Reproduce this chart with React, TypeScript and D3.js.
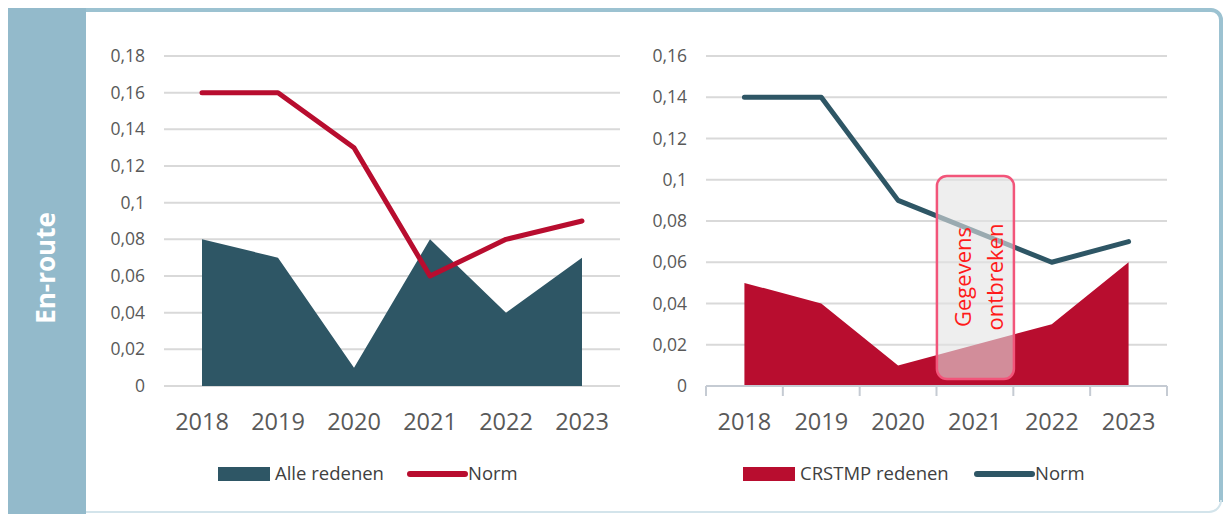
import React from "react";
import * as d3 from "d3";

// data
const years = ["2018", "2019", "2020", "2021", "2022", "2023"];
const alleRedenen = [0.08, 0.07, 0.01, 0.08, 0.04, 0.07];
const normLeft = [0.16, 0.16, 0.13, 0.06, 0.08, 0.09];
const crstmpRedenen: (number | null)[] = [0.05, 0.04, 0.01, null, 0.03, 0.06];
const normRight: (number | null)[] = [0.14, 0.14, 0.09, null, 0.06, 0.07];
const yTicksLeft = [0, 0.02, 0.04, 0.06, 0.08, 0.1, 0.12, 0.14, 0.16, 0.18];
const yTicksRight = [0, 0.02, 0.04, 0.06, 0.08, 0.1, 0.12, 0.14, 0.16];
const sectionLabel = "En-route";
const missingLabel = ["Gegevens", "ontbreken"];
const missingYear = "2021";

const teal = "#2e5665";
const crimson = "#b80d2f";
const gridCol = "#d9d9d9";
const textCol = "#595959";
const font = "'Open Sans', 'Noto Sans', sans-serif";

const nl = d3.formatLocale({ decimal: ",", thousands: ".", grouping: [3], currency: ["", ""] });
const fmt = nl.format(".2~f");

type Cfg = {
  x0: number;
  x1: number;
  yMax: number;
  ticks: number[];
  area: (number | null)[];
  line: (number | null)[];
  areaColor: string;
  lineColor: string;
  axisTicks: boolean;
  legendArea: string;
  legendX: number;
  normX: number;
};

const Panel = ({ c }: { c: Cfg }) => {
  const x = d3.scaleBand<string>().domain(years).range([c.x0, c.x1]).padding(0);
  const y = d3.scaleLinear().domain([0, c.yMax]).range([386, 56]);
  const cx = (i: number) => (x(years[i]) as number) + x.bandwidth() / 2;

  const areaPts = c.area.map((v, i) => ({ i, v })).filter((d) => d.v !== null) as { i: number; v: number }[];
  const linePts = c.line.map((v, i) => ({ i, v })).filter((d) => d.v !== null) as { i: number; v: number }[];

  const areaGen = d3
    .area<{ i: number; v: number }>()
    .x((d) => cx(d.i))
    .y0(y(0))
    .y1((d) => y(d.v));
  const lineGen = d3
    .line<{ i: number; v: number }>()
    .x((d) => cx(d.i))
    .y((d) => y(d.v));

  return (
    <g>
      {c.ticks.map((t) => (
        <g key={t}>
          <line x1={c.x0} x2={c.x1} y1={y(t)} y2={y(t)} stroke={gridCol} strokeWidth={2} />
          <text x={c.x0 - 19} y={y(t)} dy="0.35em" textAnchor="end" fontSize={17.5} fill={textCol} fontFamily={font}>
            {fmt(t)}
          </text>
        </g>
      ))}
      <path d={areaGen(areaPts) as string} fill={c.areaColor} />
      {c.axisTicks && (
        <g stroke="#c5cbd3" strokeWidth={2}>
          <line x1={c.x0} x2={c.x1} y1={y(0)} y2={y(0)} />
          {[...years.map((yr) => x(yr) as number), c.x1].map((p, i) => (
            <line key={i} x1={p} x2={p} y1={y(0)} y2={y(0) + 10} />
          ))}
        </g>
      )}
      <path d={lineGen(linePts) as string} fill="none" stroke={c.lineColor} strokeWidth={5} strokeLinecap="round" strokeLinejoin="round" />
      {years.map((yr, i) => (
        <text key={yr} x={cx(i)} y={430} textAnchor="middle" fontSize={23.5} fill={textCol} fontFamily={font}>
          {yr}
        </text>
      ))}
      {/* legend */}
      <rect x={c.legendX} y={467} width={52} height={14} fill={c.areaColor} />
      <text x={c.legendX + 57} y={474} dy="0.35em" fontSize={18.5} fill="#404040" fontFamily={font}>
        {c.legendArea}
      </text>
      <line x1={c.normX} x2={c.normX + 55} y1={474} y2={474} stroke={c.lineColor} strokeWidth={6} strokeLinecap="round" />
      <text x={c.normX + 58} y={474} dy="0.35em" fontSize={18.5} fill="#404040" fontFamily={font}>
        Norm
      </text>
    </g>
  );
};

const App = () => {
  const left: Cfg = {
    x0: 164,
    x1: 620,
    yMax: 0.18,
    ticks: yTicksLeft,
    area: alleRedenen,
    line: normLeft,
    areaColor: teal,
    lineColor: crimson,
    axisTicks: false,
    legendArea: "Alle redenen",
    legendX: 218,
    normX: 410,
  };
  const right: Cfg = {
    x0: 706,
    x1: 1167,
    yMax: 0.16,
    ticks: yTicksRight,
    area: crstmpRedenen,
    line: normRight,
    areaColor: crimson,
    lineColor: teal,
    axisTicks: true,
    legendArea: "CRSTMP redenen",
    legendX: 743,
    normX: 977,
  };
  const rx = d3.scaleBand<string>().domain(years).range([right.x0, right.x1]);
  const boxX = (rx(missingYear) as number) + rx.bandwidth() / 2 - 38;

  return (
    <svg width={1223} height={514} style={{ position: "absolute", left: 0, top: 0, background: "#fff" }}>
      {/* frame */}
      <path d="M86,10 H1211 A10,10 0 0 1 1221,20 V502" fill="none" stroke="#9cc2d1" strokeWidth={4} />
      <path d="M1221,500 A12,12 0 0 1 1209,512 H86" fill="none" stroke="#d3e4eb" strokeWidth={2} />
      <rect x={8} y={8} width={78} height={506} fill="#93bacb" />
      <text
        transform="translate(46,268) rotate(-90)"
        textAnchor="middle"
        dy="0.35em"
        fontSize={26}
        fontWeight={700}
        fill="#fff"
        fontFamily={font}
      >
        {sectionLabel}
      </text>
      <Panel c={left} />
      <Panel c={right} />
      {/* missing data box */}
      <rect x={boxX} y={176} width={77} height={203} rx={10} fill="#e3e3e3" fillOpacity={0.6} stroke="#f2557a" strokeWidth={2.5} />
      {missingLabel.map((t, i) => (
        <text
          key={t}
          transform={`translate(${boxX + 26 + i * 32},277) rotate(-90)`}
          textAnchor="middle"
          dy="0.35em"
          fontSize={22}
          fill="#ff1a1a"
          fontFamily={font}
        >
          {t}
        </text>
      ))}
    </svg>
  );
};

export default App;
